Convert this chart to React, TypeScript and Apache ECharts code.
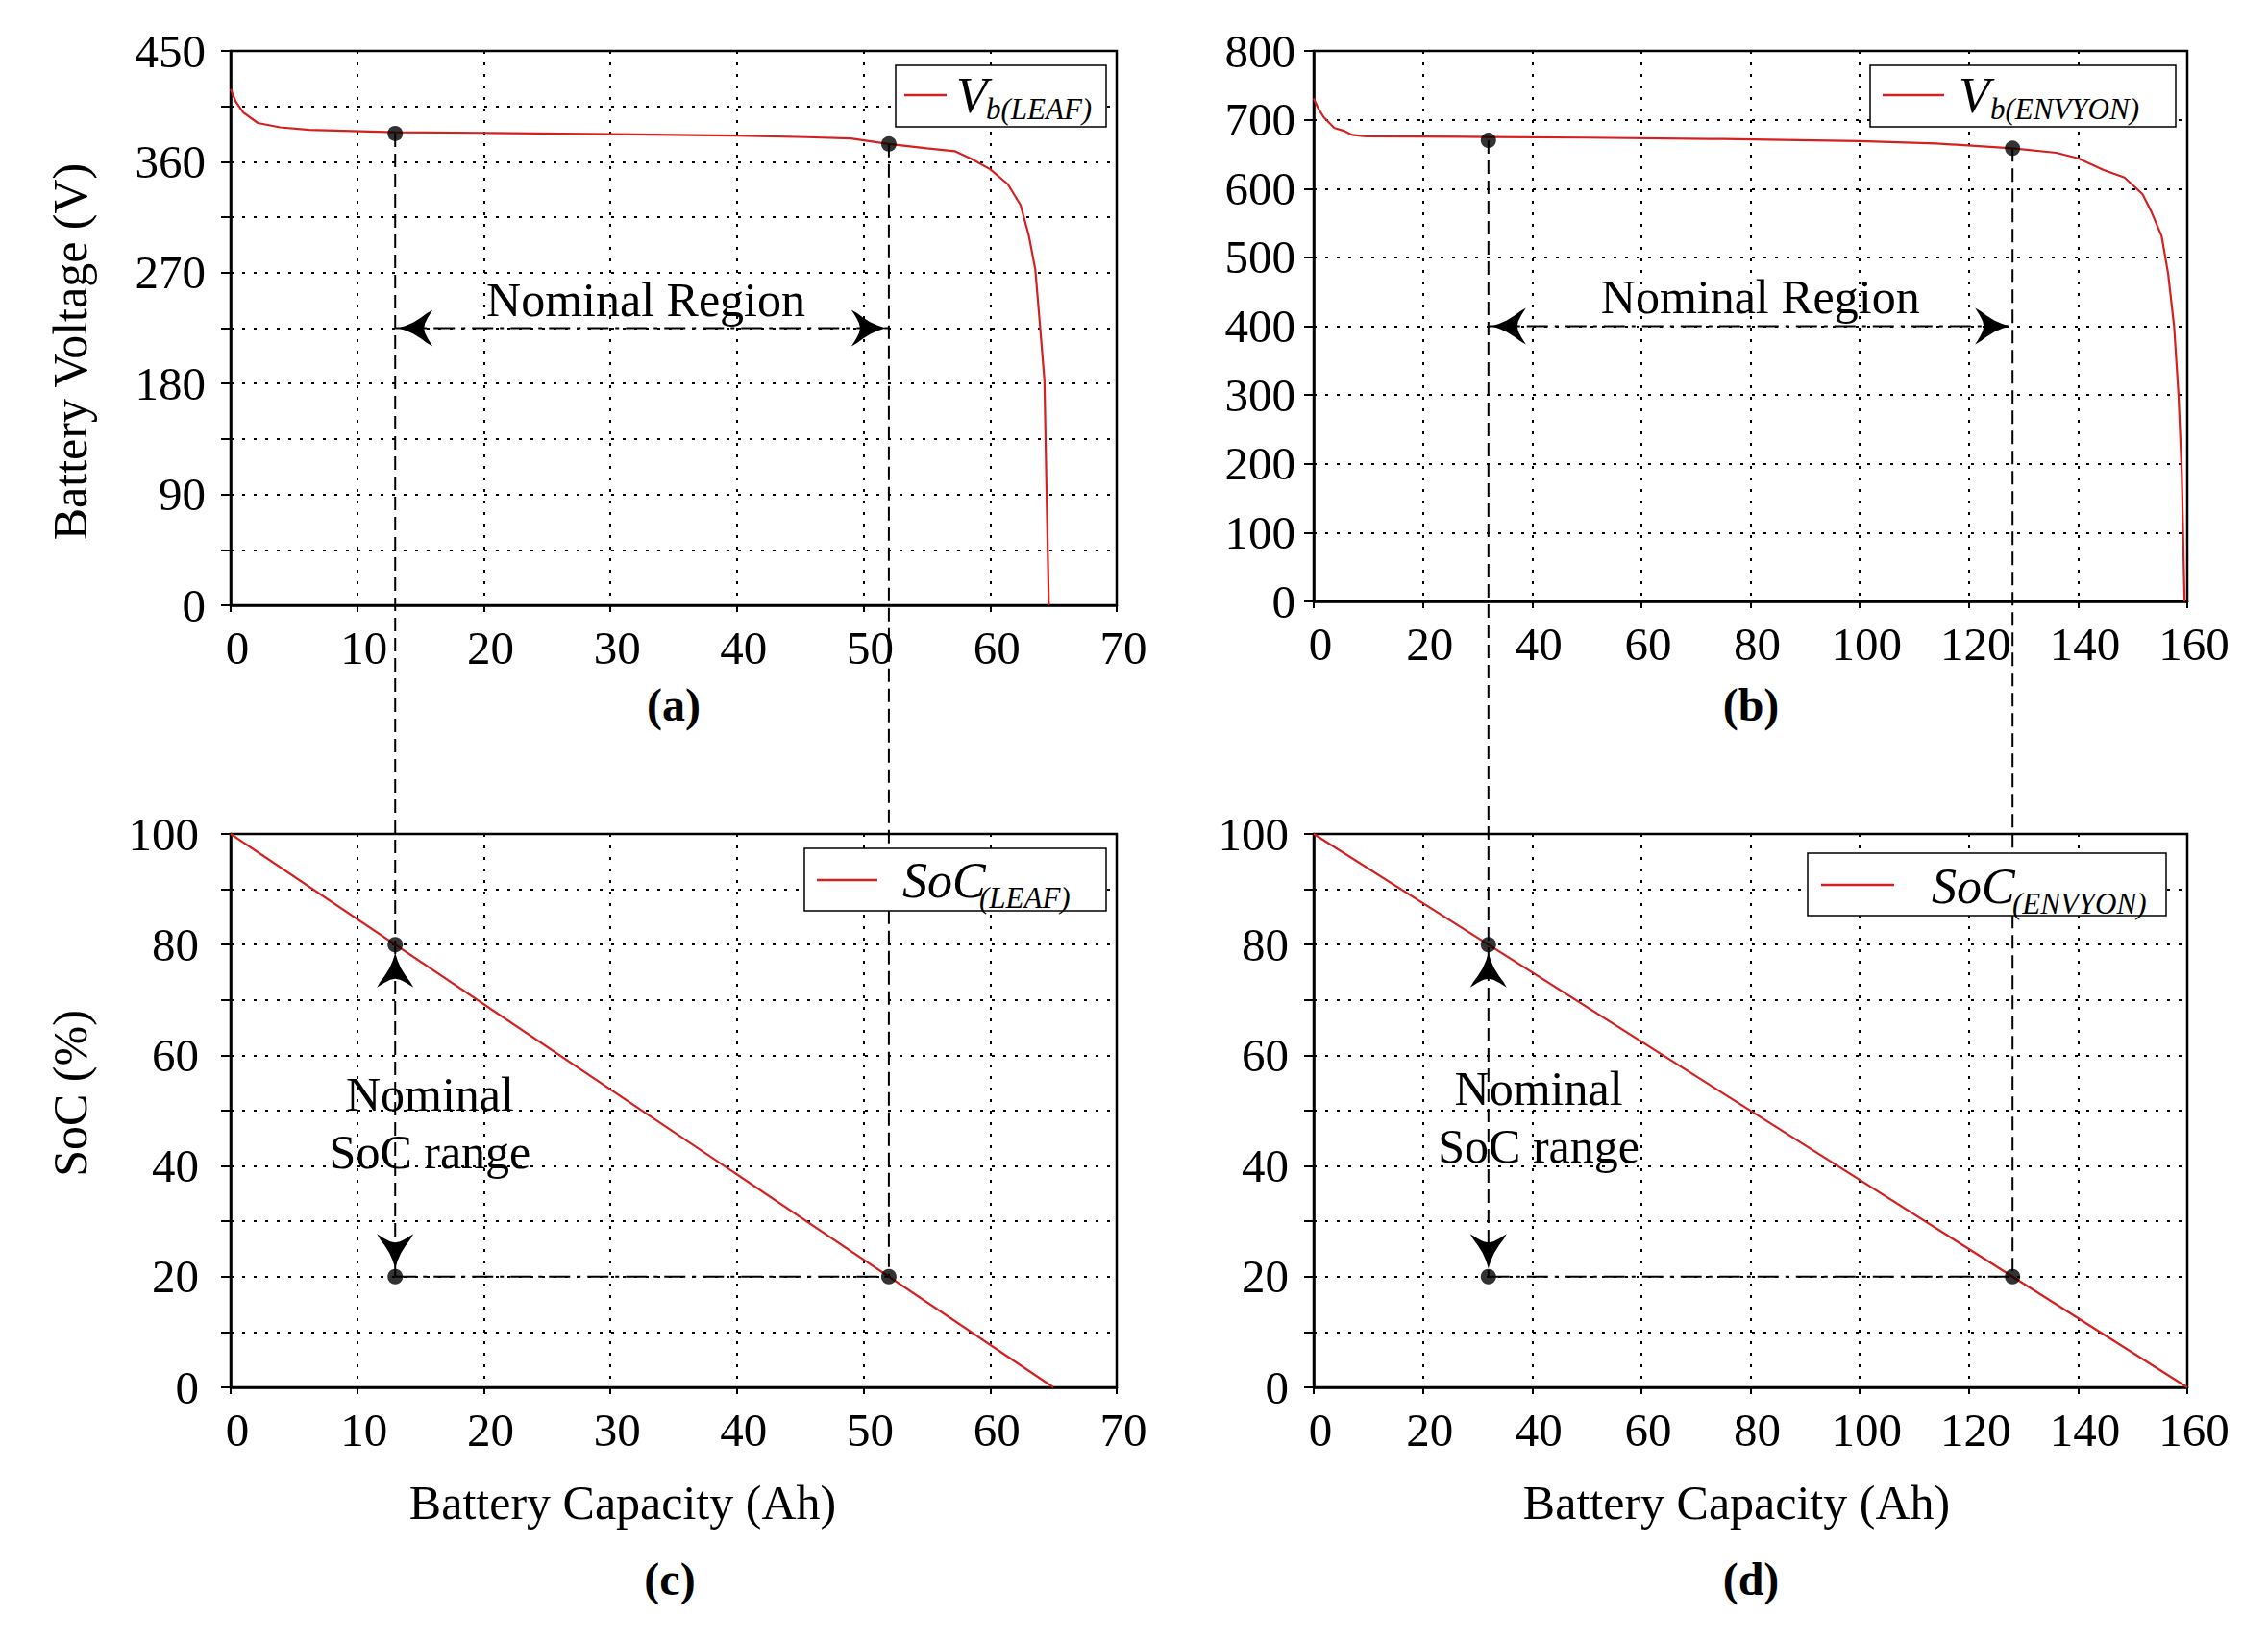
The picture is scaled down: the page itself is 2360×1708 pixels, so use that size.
import React, { useEffect, useRef } from 'react';
import * as echarts from 'echarts';

// ---------- data ----------
const leafCapacity = [0, 0.4, 1.0, 2.15, 3.9, 6.2, 13, 20, 30, 40, 45.5, 49, 52, 55, 57.2, 58.5, 60, 61.4, 62.4, 63.06, 63.57, 63.95, 64.29, 64.46, 64.64];
const leafVoltage = [419, 409, 400, 391.5, 388, 386, 384, 383.5, 382.5, 381.3, 380, 379, 374.5, 371, 368.6, 362.5, 354, 341.8, 325, 300, 272.5, 226, 183, 90.6, 0];

const envyonCapacity = [0, 0.8, 1.8, 3.8, 5.5, 7, 9.6, 20, 32, 50, 75, 100, 114, 128, 136, 140, 144.7, 148.5, 151.8, 153.5, 155.3, 156.5, 157.6, 158.4, 159, 159.5];
const envyonVoltage = [731, 717, 704, 688, 684, 678, 676, 675.5, 675, 674, 672, 669, 665.5, 658.5, 652, 644, 627, 616, 592, 565, 531, 476, 399, 300, 185, 0];

const leafSocCapacity = [0, 65];
const leafSoc = [100, 0];
const envyonSocCapacity = [0, 160];
const envyonSoc = [100, 0];

const leafNominalCapacity = [13, 52];
const leafNominalVoltage = [383, 374.5];
const envyonNominalCapacity = [32, 128];
const envyonNominalVoltage = [670, 658.5];
const nominalSoc = [80, 20];
const regionArrowVoltage = [225, 400]; // LEAF, ENVYON
const socArrowTips = [78.5, 21.5];

const leafVoltTicks = [0, 90, 180, 270, 360, 450];
const envyonVoltTicks = [0, 100, 200, 300, 400, 500, 600, 700, 800];
const socTicks = [0, 20, 40, 60, 80, 100];
const leafCapTicks = [0, 10, 20, 30, 40, 50, 60, 70];
const envyonCapTicks = [0, 20, 40, 60, 80, 100, 120, 140, 160];

const nominalRegionLabelPos = [[32.8, 248], [81.8, 443]];
const nominalSocLabelPos = [[15.75, 47.7], [41.2, 48.8]];

// ---------- styles ----------
const FONT = "'Liberation Serif', 'Times New Roman', Times, serif";
const RED = '#d42020';
const BLACK = '#000';

const zip = (a: number[], b: number[]) => a.map((v, i) => [v, b[i]]);

function xAxis(gridIndex: number, max: number, interval: number, ticks: number[]) {
  return {
    type: 'value', gridIndex, min: 0, max, interval,
    axisLine: { show: true, onZero: false, lineStyle: { color: BLACK, width: 2.5 } },
    axisTick: { show: true, inside: false, length: 7, lineStyle: { color: BLACK, width: 2 } },
    axisLabel: {
      show: true, margin: 20, fontFamily: FONT, fontSize: 49, color: BLACK,
      padding: [0, 0, 0, 14], showMinLabel: true, showMaxLabel: true,
      formatter: (v: number) => (ticks.includes(v) ? String(v) : ''),
    },
    splitLine: { show: true, lineStyle: { color: BLACK, width: 2, type: [3, 9] } },
  };
}

function yAxis(gridIndex: number, max: number, interval: number, ticks: number[], margin: number) {
  return {
    type: 'value', gridIndex, min: 0, max, interval,
    axisLine: { show: true, onZero: false, lineStyle: { color: BLACK, width: 2.5 } },
    axisTick: { show: true, inside: false, length: 10, lineStyle: { color: BLACK, width: 2 } },
    axisLabel: {
      show: true, margin, fontFamily: FONT, fontSize: 49, color: BLACK,
      showMinLabel: true, showMaxLabel: true,
      formatter: (v: number) => (ticks.includes(v) ? String(v) : ''),
    },
    splitLine: { show: true, lineStyle: { color: BLACK, width: 2, type: [3, 9] } },
  };
}

function curve(idx: number, data: number[][]) {
  return {
    type: 'line', xAxisIndex: idx, yAxisIndex: idx, data,
    showSymbol: false, symbol: 'none', smooth: false,
    lineStyle: { color: RED, width: 2.2 }, z: 3,
  };
}

function dashDot(idx: number, data: number[][]) {
  return {
    type: 'line', xAxisIndex: idx, yAxisIndex: idx, data,
    showSymbol: false, symbol: 'none',
    lineStyle: { color: BLACK, width: 2, type: [22, 7, 4, 7] }, z: 4,
  };
}

function dots(idx: number, data: number[][]) {
  return {
    type: 'scatter', xAxisIndex: idx, yAxisIndex: idx, data,
    symbol: 'circle', symbolSize: 16,
    itemStyle: { color: BLACK }, z: 10,
  };
}

// right-pointing concave arrowhead, tip at origin
const ARROW: number[][] = [
  [0, 0], [-8, -2.5], [-16, -6], [-24, -11], [-30, -15.5], [-36, -19], [-31, -11], [-28, -5], [-27, 0],
  [-28, 5], [-31, 11], [-36, 19], [-30, 15.5], [-24, 11], [-16, 6], [-8, 2.5],
];
function arrowPoints(dir: 'left' | 'right' | 'up' | 'down') {
  return ARROW.map(([x, y]) => {
    if (dir === 'right') return [x, y];
    if (dir === 'left') return [-x, y];
    if (dir === 'up') return [y, -x];
    return [y, x];
  });
}

export default function App() {
  const ref = useRef<HTMLDivElement>(null);

  useEffect(() => {
    if (!ref.current) return;
    const chart = echarts.init(ref.current, null, { renderer: 'svg' });

    const option: any = {
      animation: false,
      backgroundColor: '#fff',
      grid: [
        { left: 240, top: 53, width: 922, height: 577, show: true, borderColor: BLACK, borderWidth: 2.5 },
        { left: 1367, top: 53, width: 909, height: 573, show: true, borderColor: BLACK, borderWidth: 2.5 },
        { left: 240, top: 868, width: 922, height: 576, show: true, borderColor: BLACK, borderWidth: 2.5 },
        { left: 1367, top: 868, width: 909, height: 576, show: true, borderColor: BLACK, borderWidth: 2.5 },
      ],
      xAxis: [
        xAxis(0, 70, 10, leafCapTicks),
        xAxis(1, 160, 20, envyonCapTicks),
        xAxis(2, 70, 10, leafCapTicks),
        xAxis(3, 160, 20, envyonCapTicks),
      ],
      yAxis: [
        yAxis(0, 450, 45, leafVoltTicks, 26),
        yAxis(1, 800, 100, envyonVoltTicks, 19),
        yAxis(2, 100, 10, socTicks, 33),
        yAxis(3, 100, 10, socTicks, 26),
      ],
      series: [
        curve(0, zip(leafCapacity, leafVoltage)),
        curve(1, zip(envyonCapacity, envyonVoltage)),
        curve(2, zip(leafSocCapacity, leafSoc)),
        curve(3, zip(envyonSocCapacity, envyonSoc)),
        dashDot(0, leafNominalCapacity.map((c) => [c, regionArrowVoltage[0]])),
        dashDot(1, envyonNominalCapacity.map((c) => [c, regionArrowVoltage[1]])),
        dashDot(2, leafNominalCapacity.map((c) => [c, nominalSoc[1]])),
        dashDot(3, envyonNominalCapacity.map((c) => [c, nominalSoc[1]])),
        dots(0, zip(leafNominalCapacity, leafNominalVoltage)),
        dots(1, zip(envyonNominalCapacity, envyonNominalVoltage)),
        dots(2, [[leafNominalCapacity[0], nominalSoc[0]], [leafNominalCapacity[0], nominalSoc[1]], [leafNominalCapacity[1], nominalSoc[1]]]),
        dots(3, [[envyonNominalCapacity[0], nominalSoc[0]], [envyonNominalCapacity[0], nominalSoc[1]], [envyonNominalCapacity[1], nominalSoc[1]]]),
      ],
    };
    chart.setOption(option);

    const px = (g: number, pt: number[]) => chart.convertToPixel({ gridIndex: g } as any, pt) as number[];
    const els: any[] = [];

    // vertical dashed connectors (voltage dot -> SoC 20% dot)
    const connect = (gTop: number, gBot: number, caps: number[], volts: number[]) => {
      caps.forEach((c, i) => {
        const a = px(gTop, [c, volts[i]]);
        const b = px(gBot, [c, nominalSoc[1]]);
        els.push({
          type: 'line', z: 1,
          shape: { x1: b[0], y1: a[1], x2: b[0], y2: b[1] },
          style: { stroke: BLACK, lineWidth: 2, lineDash: [14, 7] },
        });
      });
    };
    connect(0, 2, leafNominalCapacity, leafNominalVoltage);
    connect(1, 3, envyonNominalCapacity, envyonNominalVoltage);

    // arrowheads
    const arrow = (p: number[], dir: any) =>
      els.push({ type: 'polygon', x: p[0], y: p[1], z: 60, shape: { points: arrowPoints(dir) }, style: { fill: BLACK } });
    const addArrows = (gTop: number, gBot: number, caps: number[], v: number) => {
      const l = px(gTop, [caps[0], v]);
      const r = px(gTop, [caps[1], v]);
      arrow([l[0] + 3, l[1]], 'left');
      arrow([r[0] - 3, r[1]], 'right');
      const u = px(gBot, [caps[0], socArrowTips[0]]);
      const d = px(gBot, [caps[0], socArrowTips[1]]);
      arrow(u, 'up');
      arrow(d, 'down');
    };
    addArrows(0, 2, leafNominalCapacity, regionArrowVoltage[0]);
    addArrows(1, 3, envyonNominalCapacity, regionArrowVoltage[1]);

    // annotation texts
    const txt = (p: number[], text: string, extra: any = {}) =>
      els.push({
        type: 'text', x: p[0], y: p[1], z: 70,
        style: { text, fontFamily: FONT, fontSize: 50, fill: BLACK, align: 'center', verticalAlign: 'middle', ...extra },
      });
    txt(px(0, nominalRegionLabelPos[0]), 'Nominal Region');
    txt(px(1, nominalRegionLabelPos[1]), 'Nominal Region');
    txt(px(2, nominalSocLabelPos[0]), 'Nominal\nSoC range', { lineHeight: 60 });
    txt(px(3, nominalSocLabelPos[1]), 'Nominal\nSoC range', { lineHeight: 60 });

    // axis titles
    els.push({ type: 'text', x: 73, y: 366, rotation: Math.PI / 2, z: 70,
      style: { text: 'Battery Voltage (V)', fontFamily: FONT, fontSize: 50, fill: BLACK, align: 'center', verticalAlign: 'middle' } });
    els.push({ type: 'text', x: 73, y: 1138, rotation: Math.PI / 2, z: 70,
      style: { text: 'SoC (%)', fontFamily: FONT, fontSize: 50, fill: BLACK, align: 'center', verticalAlign: 'middle' } });
    els.push({ type: 'text', x: 648, y: 1564, z: 70,
      style: { text: 'Battery Capacity (Ah)', fontFamily: FONT, fontSize: 50, fill: BLACK, align: 'center', verticalAlign: 'middle' } });
    els.push({ type: 'text', x: 1807, y: 1564, z: 70,
      style: { text: 'Battery Capacity (Ah)', fontFamily: FONT, fontSize: 50, fill: BLACK, align: 'center', verticalAlign: 'middle' } });

    // panel labels
    const panel = (x: number, y: number, t: string) =>
      els.push({ type: 'text', x, y, z: 70,
        style: { text: t, fontFamily: FONT, fontSize: 48, fontWeight: 'bold', fill: BLACK, align: 'center', verticalAlign: 'middle' } });
    panel(701, 733, '(a)');
    panel(1822, 733, '(b)');
    panel(697, 1643, '(c)');
    panel(1822, 1643, '(d)');

    // legends
    const legend = (box: number[], line: number[], main: string, mainPos: number[], mainSize: number, sub: string, subPos: number[]) => {
      els.push({ type: 'rect', z: 80, shape: { x: box[0], y: box[1], width: box[2] - box[0], height: box[3] - box[1] },
        style: { fill: '#fff', stroke: BLACK, lineWidth: 1.5 } });
      els.push({ type: 'line', z: 81, shape: { x1: line[0], y1: line[2], x2: line[1], y2: line[2] },
        style: { stroke: RED, lineWidth: 2.5 } });
      els.push({ type: 'text', z: 81, x: mainPos[0], y: mainPos[1],
        style: { text: main, fontFamily: FONT, fontStyle: 'italic', fontSize: mainSize, fill: BLACK, align: 'left', verticalAlign: 'middle' } });
      els.push({ type: 'text', z: 81, x: subPos[0], y: subPos[1],
        style: { text: sub, fontFamily: FONT, fontStyle: 'italic', fontSize: 31, fill: BLACK, align: 'left', verticalAlign: 'middle' } });
    };
    legend([932, 68, 1151, 132], [941, 985, 99], 'V', [995, 99], 53, 'b(LEAF)', [1026, 113]);
    legend([1946, 68, 2264, 132], [1959, 2023, 99], 'V', [2038, 99], 53, 'b(ENVYON)', [2071, 113]);
    legend([837, 883, 1151, 948], [850, 913, 916], 'SoC', [939, 916], 52, '(LEAF)', [1019, 934]);
    legend([1881, 888, 2254, 953], [1895, 1971, 921], 'SoC', [2010, 922], 52, '(ENVYON)', [2094, 940]);

    chart.setOption({ graphic: { elements: els } });

    return () => chart.dispose();
  }, []);

  return (
    <div
      ref={ref}
      style={{ position: 'absolute', left: 0, top: 0, width: 2360, height: 1708, background: '#fff' }}
    />
  );
}
